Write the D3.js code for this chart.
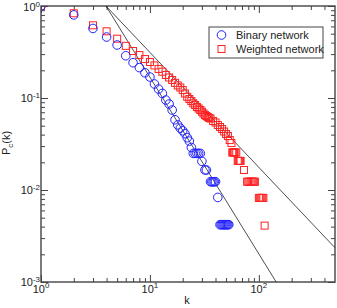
<!DOCTYPE html>
<html>
<head>
<meta charset="utf-8">
<script src="https://cdn.jsdelivr.net/npm/d3@7"></script>
<style>
  body { margin: 0; background: #fff; }
  svg { display: block; font-family: "Liberation Sans", Arial, sans-serif; }
</style>
</head>
<body>
<div id="graph"></div>
<script>
// binary network: cumulative degree distribution
const binaryK = [1, 2, 3, 4, 5, 6, 7, 8, 9, 10, 11, 12, 13, 14, 15, 16, 17, 18, 19, 20,
  21, 22, 23, 24, 25, 26, 27, 28, 29, 30, 32, 33, 36, 37, 38, 39, 40, 42,
  44, 45, 46, 47, 48, 49, 50, 51, 52, 53];
const binaryP = [1, 0.80, 0.57, 0.46, 0.377, 0.288, 0.242, 0.214, 0.188, 0.169, 0.142, 0.125, 0.112, 0.095, 0.086, 0.074, 0.058, 0.051, 0.047, 0.044,
  0.041, 0.037, 0.034, 0.029, 0.025, 0.025, 0.025, 0.025, 0.025, 0.0205, 0.0165, 0.0165, 0.0123, 0.0123, 0.0123, 0.0123, 0.0123, 0.0083,
  0.0042, 0.0042, 0.0042, 0.0042, 0.0042, 0.0042, 0.0042, 0.0042, 0.0042, 0.0042];

// weighted network
const weightedK = [1, 2, 3, 4, 5, 6, 7, 8, 9, 10, 11, 12, 13, 14, 15, 16, 17, 18, 19, 20,
  21, 22, 23, 24, 25, 26, 27, 28, 29, 30, 31, 32, 33, 34, 35, 36, 38, 40, 42, 44,
  46, 48, 50, 52, 54, 56, 57, 58, 59, 60, 62, 64, 65, 66, 67, 68, 73,
  78, 80, 82, 84, 86, 88, 90, 92, 100, 102, 104, 106, 108, 110, 113];
const weightedP = [1, 0.833, 0.617, 0.531, 0.441, 0.369, 0.324, 0.293, 0.265, 0.246, 0.226, 0.207, 0.193, 0.178, 0.167, 0.157, 0.146, 0.137, 0.130, 0.122,
  0.112, 0.103, 0.0975, 0.0927, 0.0875, 0.0839, 0.0798, 0.0769, 0.0741, 0.0710, 0.0679, 0.0653, 0.0637, 0.0621, 0.0606, 0.0598, 0.0562, 0.0542, 0.0509, 0.0484,
  0.046, 0.0432, 0.0406, 0.0386, 0.0349, 0.0324, 0.0256, 0.0256, 0.0256, 0.0256, 0.0256, 0.0207, 0.0207, 0.0207, 0.0207, 0.0207, 0.0165,
  0.0123, 0.0123, 0.0123, 0.0123, 0.0123, 0.0123, 0.0123, 0.0123, 0.0082, 0.0082, 0.0082, 0.0082, 0.0082, 0.0082, 0.0041];

// power-law guide lines P = (k / k0)^-gamma
const fitK0 = 3.95;
const fitGamma = [1.92, 1.25];

const xMajor = [1, 10, 100];
const xMajorExp = ["0", "1", "2"];
const yMajor = [1, 0.1, 0.01, 0.001];
const yMajorExp = ["0", "-1", "-2", "-3"];

const legendLabels = ["Binary network", "Weighted network"];

const w = 337;
const h = 308;
const mLeft = 41, mRight = 335, mTop = 6, mBottom = 282;

const xScale = d3.scaleLog().domain([1, 500]).range([mLeft, mRight]);
const yScale = d3.scaleLog().domain([0.001, 1]).range([mBottom, mTop]);

const svg = d3.select("#graph")
  .append("svg")
  .attr("width", w)
  .attr("height", h);

svg.append("defs").append("clipPath")
  .attr("id", "clip")
  .append("rect")
  .attr("x", mLeft).attr("y", mTop)
  .attr("width", mRight - mLeft).attr("height", mBottom - mTop);

// minor tick values
const xMinor = [];
[1, 10, 100].forEach(d => { for (let i = 2; i <= 9; i++) if (d * i < 500) xMinor.push(d * i); });
const yMinor = [];
[0.001, 0.01, 0.1].forEach(d => { for (let i = 2; i <= 9; i++) yMinor.push(d * i); });

const axisColor = "#444";

function styleAxis(g) {
  g.select(".domain").remove();
  g.selectAll("line").attr("stroke", axisColor).attr("stroke-width", 1);
}

// bottom
svg.append("g").attr("transform", `translate(0,${mBottom})`)
  .call(d3.axisBottom(xScale).tickValues(xMajor).tickSize(-7).tickFormat(""))
  .call(styleAxis);
svg.append("g").attr("transform", `translate(0,${mBottom})`)
  .call(d3.axisBottom(xScale).tickValues(xMinor).tickSize(-4).tickFormat(""))
  .call(styleAxis);
// top
svg.append("g").attr("transform", `translate(0,${mTop})`)
  .call(d3.axisTop(xScale).tickValues(xMajor).tickSize(-7).tickFormat(""))
  .call(styleAxis);
svg.append("g").attr("transform", `translate(0,${mTop})`)
  .call(d3.axisTop(xScale).tickValues(xMinor).tickSize(-4).tickFormat(""))
  .call(styleAxis);
// left
svg.append("g").attr("transform", `translate(${mLeft},0)`)
  .call(d3.axisLeft(yScale).tickValues(yMajor).tickSize(-7).tickFormat(""))
  .call(styleAxis);
svg.append("g").attr("transform", `translate(${mLeft},0)`)
  .call(d3.axisLeft(yScale).tickValues(yMinor).tickSize(-4).tickFormat(""))
  .call(styleAxis);
// right
svg.append("g").attr("transform", `translate(${mRight},0)`)
  .call(d3.axisRight(yScale).tickValues(yMajor).tickSize(-7).tickFormat(""))
  .call(styleAxis);
svg.append("g").attr("transform", `translate(${mRight},0)`)
  .call(d3.axisRight(yScale).tickValues(yMinor).tickSize(-4).tickFormat(""))
  .call(styleAxis);

// frame
svg.append("rect")
  .attr("x", mLeft).attr("y", mTop)
  .attr("width", mRight - mLeft).attr("height", mBottom - mTop)
  .attr("fill", "none")
  .attr("stroke", axisColor)
  .attr("stroke-width", 1.4);

// tick labels
svg.selectAll(".xlab")
  .data(xMajor)
  .enter()
  .append("text")
  .attr("class", "xlab")
  .attr("x", d => xScale(d))
  .attr("y", mBottom + 11)
  .attr("text-anchor", "middle")
  .attr("font-size", 11)
  .attr("fill", "#222")
  .each(function (d, i) {
    const t = d3.select(this);
    t.append("tspan").text("10");
    t.append("tspan").attr("dy", -5).attr("font-size", 8).text(xMajorExp[i]);
  });

svg.selectAll(".ylab")
  .data(yMajor)
  .enter()
  .append("text")
  .attr("class", "ylab")
  .attr("x", mLeft - 1)
  .attr("y", d => Math.max(yScale(d) + 4, 11))
  .attr("text-anchor", "end")
  .attr("font-size", 11)
  .attr("fill", "#222")
  .each(function (d, i) {
    const t = d3.select(this);
    t.append("tspan").text("10");
    t.append("tspan").attr("dy", -4).attr("font-size", 8).text(yMajorExp[i]);
  });

// axis titles
svg.append("text")
  .attr("x", 187)
  .attr("y", 304)
  .attr("text-anchor", "middle")
  .attr("font-size", 11)
  .attr("fill", "#222")
  .text("k");

const yTitle = svg.append("text")
  .attr("transform", "translate(10,143) rotate(-90)")
  .attr("text-anchor", "middle")
  .attr("font-size", 11)
  .attr("fill", "#222");
yTitle.append("tspan").text("P");
yTitle.append("tspan").attr("dy", 3).attr("font-size", 8).text("c");
yTitle.append("tspan").attr("dy", -3).text("(k)");

// guide lines
const plot = svg.append("g").attr("clip-path", "url(#clip)");
fitGamma.forEach(g => {
  const pts = [fitK0, 500].map(k => [xScale(k), yScale(Math.pow(k / fitK0, -g))]);
  plot.append("path")
    .attr("d", d3.line()(pts))
    .attr("fill", "none")
    .attr("stroke", "#222")
    .attr("stroke-width", 0.8);
});

// weighted squares
const sq = 7;
plot.selectAll(".wsq")
  .data(weightedK)
  .enter()
  .append("rect")
  .attr("class", "wsq")
  .attr("x", d => xScale(d) - sq / 2)
  .attr("y", (d, i) => yScale(weightedP[i]) - sq / 2)
  .attr("width", sq)
  .attr("height", sq)
  .attr("fill", "none")
  .attr("stroke", "#f22")
  .attr("stroke-width", 1);

// binary circles
plot.selectAll(".bcirc")
  .data(binaryK)
  .enter()
  .append("circle")
  .attr("class", "bcirc")
  .attr("cx", d => xScale(d))
  .attr("cy", (d, i) => yScale(binaryP[i]))
  .attr("r", 4.3)
  .attr("fill", "none")
  .attr("stroke", "#22f")
  .attr("stroke-width", 1);

// legend
const lg = svg.append("g");
lg.append("rect")
  .attr("x", 209).attr("y", 27)
  .attr("width", 114).attr("height", 31)
  .attr("fill", "#fff")
  .attr("stroke", "#444")
  .attr("stroke-width", 1);
lg.append("circle")
  .attr("cx", 221.5).attr("cy", 35)
  .attr("r", 4.3)
  .attr("fill", "none").attr("stroke", "#22f");
lg.append("rect")
  .attr("x", 221.5 - sq / 2).attr("y", 49 - sq / 2)
  .attr("width", sq).attr("height", sq)
  .attr("fill", "none").attr("stroke", "#f22");
lg.selectAll(".lgt")
  .data(legendLabels)
  .enter()
  .append("text")
  .attr("class", "lgt")
  .attr("x", 236)
  .attr("y", (d, i) => 39 + i * 14)
  .attr("font-size", 11)
  .attr("fill", "#222")
  .text(d => d);
</script>
</body>
</html>
